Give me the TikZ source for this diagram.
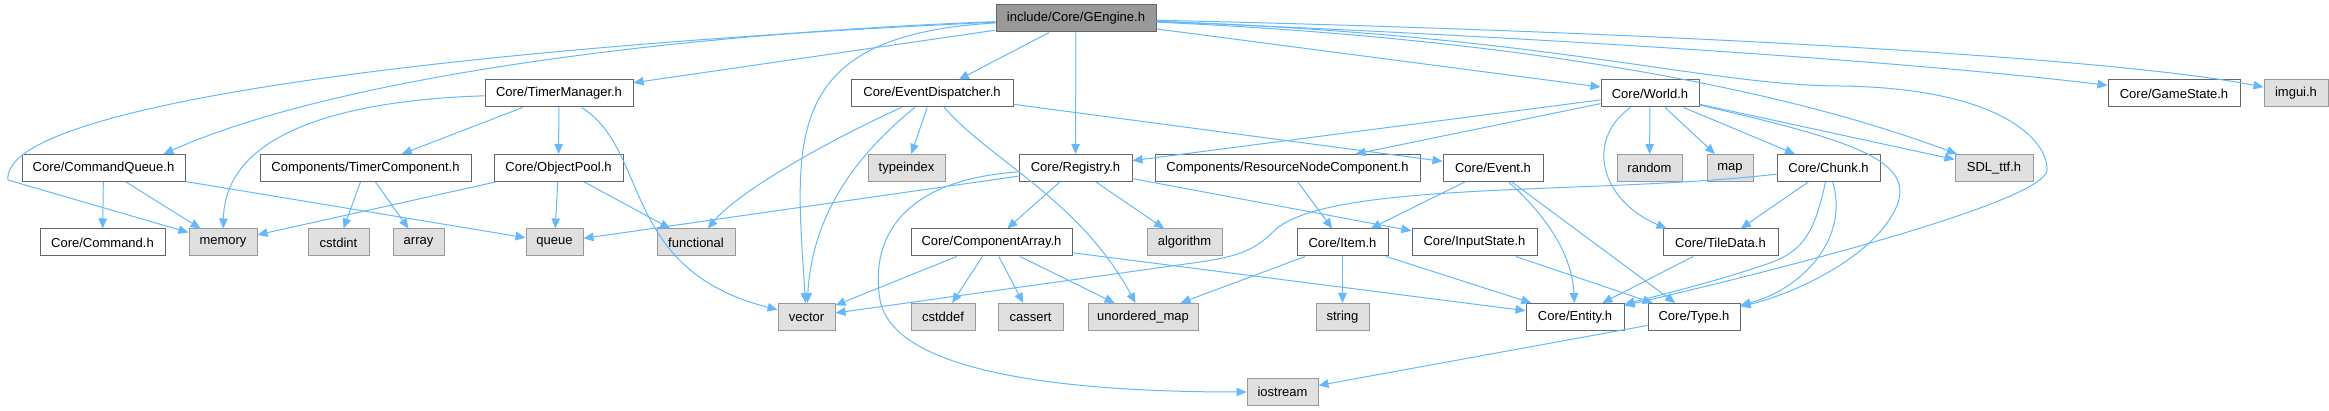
\documentclass[tikz,border=0pt]{standalone}
\usepackage{fontspec}
\setmainfont{Liberation Sans}
\usetikzlibrary{arrows.meta}
\definecolor{edgec}{HTML}{63B8FF}
\definecolor{bordd}{HTML}{666666}
\definecolor{bordl}{HTML}{999999}
\definecolor{grayf}{HTML}{E0E0E0}
\definecolor{rootf}{HTML}{999999}
\tikzset{
  hdr/.style={draw=bordd, line width=1pt, fill=white, minimum height=27pt, inner sep=0pt, font=\fontsize{13}{15}\selectfont},
  sys/.style={draw=bordl, line width=1pt, fill=grayf, minimum height=27pt, inner sep=0pt, font=\fontsize{13}{15}\selectfont},
  rootbox/.style={draw=bordd, line width=1pt, fill=rootf, minimum height=27pt, inner sep=0pt, font=\fontsize{13}{15}\selectfont},
  dep/.style={draw=edgec, line width=1pt, -{Triangle[length=10pt,width=8.5pt]}}
}
\begin{document}
\begin{tikzpicture}[x=1pt,y=-1pt]
\useasboundingbox (0,0) rectangle (2329,411);
% row 0
\node[rootbox, minimum width=160pt] (root) at (1076,18.5) {include/Core/GEngine.h};
% row 1
\node[hdr, minimum width=148pt] (tm) at (559,93.5) {Core/TimerManager.h};
\node[hdr, minimum width=162pt] (ed) at (932,93.5) {Core/EventDispatcher.h};
\node[hdr, minimum width=98pt] (world) at (1650,93.5) {Core/World.h};
\node[hdr, minimum width=132pt] (gs) at (2174,93.5) {Core/GameState.h};
\node[sys, minimum width=64pt] (imgui) at (2296,93.5) {imgui.h};
% row 2
\node[hdr, minimum width=163pt] (cq) at (103.5,168) {Core/CommandQueue.h};
\node[hdr, minimum width=211pt] (tc) at (365.5,168) {Components/TimerComponent.h};
\node[hdr, minimum width=129pt] (op) at (558.5,168) {Core/ObjectPool.h};
\node[sys, minimum width=77pt] (typeindex) at (906.5,168) {typeindex};
\node[hdr, minimum width=113pt] (reg) at (1075.5,168) {Core/Registry.h};
\node[hdr, minimum width=265pt] (rn) at (1287.5,168) {Components/ResourceNodeComponent.h};
\node[hdr, minimum width=100pt] (event) at (1493,168) {Core/Event.h};
\node[sys, minimum width=65pt] (random) at (1649.5,168) {random};
\node[sys, minimum width=46pt] (map) at (1730,168) {map};
\node[hdr, minimum width=103pt] (chunk) at (1828.5,168) {Core/Chunk.h};
\node[sys, minimum width=78pt] (sdl) at (1994,168) {SDL\_ttf.h};
% row 3
\node[hdr, minimum width=125pt] (cmd) at (102.5,242.5) {Core/Command.h};
\node[sys, minimum width=68pt] (memory) at (223,242.5) {memory};
\node[sys, minimum width=61pt] (cstdint) at (338.5,242.5) {cstdint};
\node[sys, minimum width=51pt] (array) at (418.5,242.5) {array};
\node[sys, minimum width=57pt] (queue) at (554.5,242.5) {queue};
\node[sys, minimum width=78pt] (functional) at (696,242.5) {functional};
\node[hdr, minimum width=161pt] (ca) at (991.5,242.5) {Core/ComponentArray.h};
\node[sys, minimum width=75pt] (algorithm) at (1184.5,242.5) {algorithm};
\node[hdr, minimum width=91pt] (item) at (1342.5,242.5) {Core/Item.h};
\node[hdr, minimum width=125pt] (input) at (1474.5,242.5) {Core/InputState.h};
\node[hdr, minimum width=115pt] (tiledata) at (1720.5,242.5) {Core/TileData.h};
% row 4
\node[sys, minimum width=57pt] (vector) at (806.5,317) {vector};
\node[sys, minimum width=64pt] (cstddef) at (943,317) {cstddef};
\node[sys, minimum width=65pt] (cassert) at (1030.5,317) {cassert};
\node[sys, minimum width=110pt] (um) at (1143,317) {unordered\_map};
\node[sys, minimum width=53pt] (string) at (1342.5,317) {string};
\node[hdr, minimum width=98pt] (entity) at (1575,317) {Core/Entity.h};
\node[hdr, minimum width=92pt] (type) at (1694,317) {Core/Type.h};
% row 5
\node[sys, minimum width=71pt] (iostream) at (1282.5,392) {iostream};

% helper points
\coordinate (p1) at (8,180);
\coordinate (p2) at (1840,86);
\coordinate (p3) at (2047,170);
\coordinate (p4) at (1770,263);
\coordinate (p5) at (1895,210);
\coordinate (p6) at (1275,230);
\coordinate (p7) at (1200,262);
\coordinate (p8) at (880,300);

% GEngine edges
\draw[dep] (root) .. controls (500,45) and (0,100) .. (p1) -- (memory);
\draw[dep] (root) .. controls (650,35) and (330,80) .. ([xshift=60pt]cq.north);
\draw[dep] (root) -- (tm);
\draw[dep] (root) .. controls (780,35) and (795,140) .. (vector);
\draw[dep] (root) -- (ed);
\draw[dep] (root) -- (reg);
\draw[dep] (root) -- (world);
\draw[dep] (root) .. controls (1550,40) and (1800,95) .. (sdl);
\draw[dep] (root) .. controls (1550,35) and (1700,85) .. (p2) .. controls (2000,88) and (2048,140) .. (p3) .. controls (2046,200) and (1800,265) .. (entity);
\draw[dep] (root) .. controls (1500,35) and (1900,60) .. (gs);
\draw[dep] (root) .. controls (1600,30) and (2100,55) .. (imgui);

% TimerManager
\draw[dep] (tm) .. controls (350,100) and (225,130) .. (memory);
\draw[dep] (tm) -- (tc);
\draw[dep] (tm) -- (op);
\draw[dep] (tm) .. controls (650,150) and (620,270) .. (vector);

% CommandQueue
\draw[dep] (cq) -- (cmd);
\draw[dep] (cq) -- (memory);
\draw[dep] (cq) -- (queue);

% TimerComponent
\draw[dep] (tc) -- (cstdint);
\draw[dep] (tc) -- (array);

% ObjectPool
\draw[dep] (op) -- (memory);
\draw[dep] (op) -- (queue);
\draw[dep] (op) -- (functional);

% EventDispatcher
\draw[dep] (ed) .. controls (830,140) and (740,190) .. (functional);
\draw[dep] (ed) .. controls (850,160) and (812,220) .. (vector);
\draw[dep] (ed) -- (typeindex);
\draw[dep] (ed) .. controls (990,160) and (1080,200) .. (um);
\draw[dep] (ed) -- (event);

% Registry
\draw[dep] (reg) -- (queue);
\draw[dep] (reg) .. controls (900,180) and (870,240) .. (p8) .. controls (895,380) and (1100,392) .. (iostream);
\draw[dep] (reg) -- (ca);
\draw[dep] (reg) -- (algorithm);
\draw[dep] (reg) -- (input);

% ComponentArray
\draw[dep] (ca) -- (vector);
\draw[dep] (ca) -- (cstddef);
\draw[dep] (ca) -- (cassert);
\draw[dep] (ca) -- (um);
\draw[dep] (ca) -- (entity);

% World
\draw[dep] (world) -- (reg);
\draw[dep] (world) -- (rn);
\draw[dep] (world) -- (random);
\draw[dep] (world) -- (map);
\draw[dep] (world) -- (chunk);
\draw[dep] (world) -- (sdl);
\draw[dep] (world) .. controls (1585,140) and (1600,200) .. ([xshift=4pt]tiledata.north west);
\draw[dep] (world) .. controls (1850,140) and (1920,160) .. (p5) .. controls (1870,260) and (1790,295) .. (type);

% ResourceNode, Event, InputState
\draw[dep] (rn) -- (item);
\draw[dep] (event) -- (item);
\draw[dep] (event) .. controls (1540,210) and (1572,250) .. (entity);
\draw[dep] (event) -- (type);
\draw[dep] (input) -- (type);

% Item
\draw[dep] (item) -- (um);
\draw[dep] (item) -- (string);
\draw[dep] (item) -- (entity);

% Chunk
\draw[dep] (chunk) .. controls (1600,195) and (1330,180) .. (p6) .. controls (1255,250) and (1240,256) .. (p7) -- (vector);
\draw[dep] (chunk) -- (tiledata);
\draw[dep] (chunk) .. controls (1815,230) and (1805,250) .. (p4) .. controls (1720,280) and (1680,290) .. (entity);
\draw[dep] (chunk) .. controls (1850,240) and (1800,290) .. (type);

% TileData, Type
\draw[dep] (tiledata) -- (entity);
\draw[dep] (type) -- (iostream);
\end{tikzpicture}
\end{document}
